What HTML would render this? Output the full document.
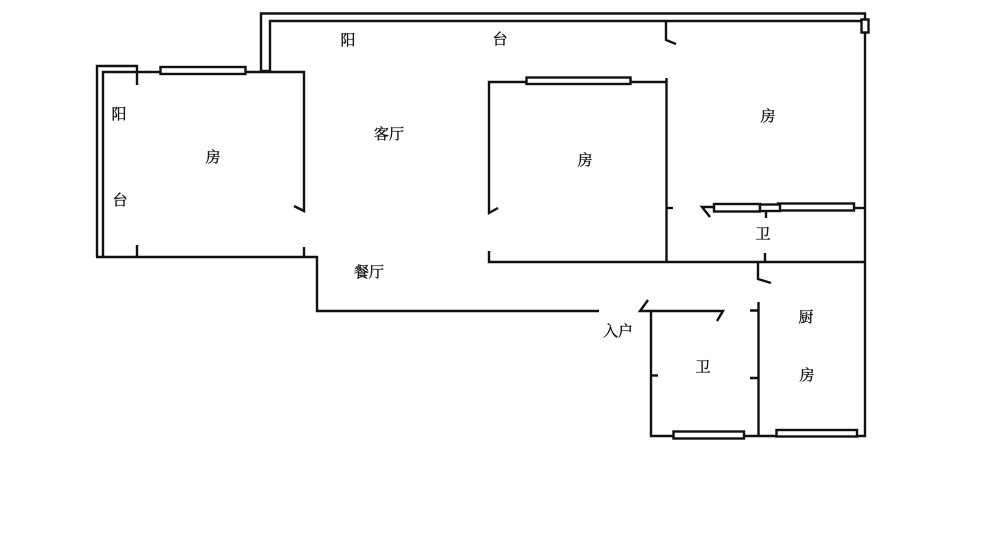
<!DOCTYPE html>
<html><head><meta charset="utf-8"><style>
html,body{margin:0;padding:0;background:#fff;width:1000px;height:560px;overflow:hidden}
svg{display:block;filter:blur(.3px)}
text{font-family:"Liberation Serif","Noto Serif CJK SC",serif;font-size:15px;fill:#111;stroke:#111;stroke-width:.35px;text-anchor:middle}
</style></head><body>
<svg width="1000" height="560" viewBox="0 0 1000 560" xmlns="http://www.w3.org/2000/svg">
<rect width="1000" height="560" fill="#fff"/>
<g fill="none" stroke="#111" stroke-width="2.4">
<!-- left balcony -->
<path d="M137 85V66H97V257"/>
<path d="M160 72H103V257"/>
<path d="M245 72H304V211L294 206"/>
<path d="M96 257H317V311H599"/>
<path d="M137 245V257M304 247V257"/>
<!-- top balcony -->
<path d="M261 72V13.500H865V436H651V311H723L717 321"/>
<path d="M270 72V21H865"/>
<path d="M666 21V40L676 44"/>
<path d="M261 71H270"/>
<!-- middle room -->
<path d="M526 82H489V213L498 208"/>
<path d="M631 82H667M666.500 78V262"/>
<path d="M489 251V262H865"/>
<path d="M666 208H673"/>
<path d="M854 208H865"/>
<path d="M714 207H702L710 217"/>
<path d="M766 212V218M765 253V262"/>
<path d="M758 262V279L771 283"/>
<path d="M758.500 302V436"/>
<path d="M750 310.500H758M750 378H758"/>
<path d="M651 311H640L648 300"/>
<path d="M651 375.500H658"/>
</g>
<g fill="#fff" stroke="#111" stroke-width="2.4">
<rect x="160.500" y="67" width="85" height="7"/>
<rect x="526.500" y="77.500" width="104" height="6.500"/>
<rect x="714" y="204" width="46" height="7.500"/>
<rect x="778" y="203.500" width="76" height="7"/>
<rect x="760" y="204.500" width="20" height="6.500"/>
<rect x="673.500" y="431.500" width="70.500" height="7"/>
<rect x="776.500" y="430" width="80.500" height="6.500"/>
<rect x="861.500" y="19.500" width="7" height="13"/>
</g>
<text x="348" y="45">阳</text>
<text x="500" y="44">台</text>
<text x="119" y="119">阳</text>
<text x="120" y="205">台</text>
<text x="213" y="162">房</text>
<text x="389" y="139">客厅</text>
<text x="585" y="165">房</text>
<text x="768" y="121">房</text>
<text x="763" y="239">卫</text>
<text x="369" y="277">餐厅</text>
<text x="618" y="336">入户</text>
<text x="703" y="372">卫</text>
<text x="806" y="322">厨</text>
<text x="807" y="380">房</text>
</svg>
</body></html>
